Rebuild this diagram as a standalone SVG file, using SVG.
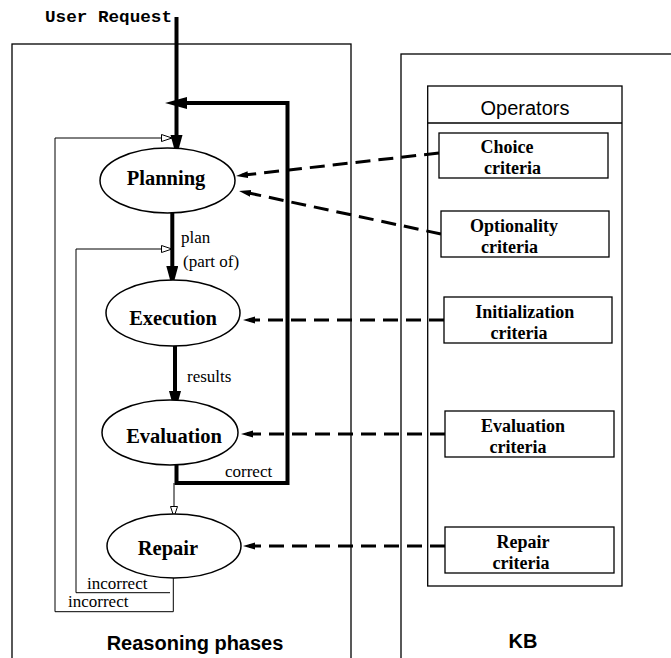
<svg xmlns="http://www.w3.org/2000/svg" width="671" height="658" viewBox="0 0 671 658">
<style>
.frame{fill:none;stroke:#000;stroke-width:1.3}
.box{fill:#fff;stroke:#000;stroke-width:1.3}
.ell{fill:#fff;stroke:#000;stroke-width:1.5}
.thick{fill:none;stroke:#000;stroke-width:4}
.thin{fill:none;stroke:#000;stroke-width:1}
.dash{fill:none;stroke:#000;stroke-width:3;stroke-dasharray:15 8}
.nlab{font-family:"Liberation Serif","Times New Roman",serif;font-weight:bold;font-size:20.5px;text-anchor:middle}
.blab{font-family:"Liberation Serif","Times New Roman",serif;font-weight:bold;font-size:18px;text-anchor:middle}
.elab{font-family:"Liberation Serif","Times New Roman",serif;font-size:17px}
.sans{font-family:"Liberation Sans",Arial,sans-serif;font-size:20px;text-anchor:middle}
</style>
<defs>
<marker id="ah" markerUnits="userSpaceOnUse" markerWidth="24" markerHeight="14" refX="10" refY="6" orient="auto"><path d="M0,0 L22,6 L0,12 z" fill="#000"/></marker>
<marker id="open" markerUnits="userSpaceOnUse" markerWidth="13" markerHeight="10" refX="11" refY="4" orient="auto"><path d="M0.5,0.5 L11,4 L0.5,7.5 z" fill="#fff" stroke="#000" stroke-width="1"/></marker>
<marker id="dah" markerUnits="userSpaceOnUse" markerWidth="14" markerHeight="9" refX="6" refY="3.5" orient="auto"><path d="M0,0 L12,3.5 L0,7 z" fill="#000"/></marker>
</defs>

<g id="reasoning-frame">
<rect class="frame" x="12" y="44" width="339" height="630"/>
<text class="sans" x="195" y="650" font-weight="bold">Reasoning phases</text>
</g>
<g id="kb-frame">
<rect class="frame" x="401" y="54" width="290" height="620"/>
<text class="sans" x="523" y="648" font-weight="bold">KB</text>
</g>
<g id="operators">
<rect class="box" x="427.7" y="86" width="194.3" height="500"/>
<line class="frame" x1="427.7" y1="123" x2="622" y2="123"/>
<text class="sans" x="525" y="115">Operators</text>
</g>

<g id="user-request">
<text x="45" y="22" font-family="'Liberation Mono','Courier New',monospace" font-weight="bold" font-size="17" textLength="127" lengthAdjust="spacingAndGlyphs">User Request</text>
</g>

<g id="connectors">
<line class="thick" x1="176.5" y1="17" x2="176.5" y2="145" marker-end="url(#ah)"/>
<path class="thick" d="M176.5,465 V483 H287.5 V103 H177" marker-end="url(#ah)"/>
<line class="thick" x1="172.3" y1="213" x2="172.3" y2="276" marker-end="url(#ah)"/>
<line class="thick" x1="175" y1="346" x2="175" y2="401" marker-end="url(#ah)"/>
<line class="thin" x1="174" y1="483" x2="174" y2="517" marker-end="url(#open)"/>
<path class="thin" d="M173.3,577 V611.7 H55 V138 H172" marker-end="url(#open)"/>
<path class="thin" d="M170,592.7 H76 V249 H172" marker-end="url(#open)"/>
<line class="dash" x1="439" y1="153" x2="242" y2="175.3" marker-end="url(#dah)"/>
<line class="dash" x1="441" y1="234" x2="244.9" y2="192.2" marker-end="url(#dah)"/>
<line class="dash" x1="444" y1="320" x2="249" y2="320" marker-end="url(#dah)"/>
<line class="dash" x1="445" y1="434" x2="247" y2="434" marker-end="url(#dah)"/>
<line class="dash" x1="445" y1="546" x2="249" y2="546" marker-end="url(#dah)"/>
<text class="elab" x="181" y="243">plan</text>
<text class="elab" x="183" y="267">(part of)</text>
<text class="elab" x="187" y="382">results</text>
<text class="elab" x="225" y="477">correct</text>
<text class="elab" x="87" y="589">incorrect</text>
<text class="elab" x="68" y="607">incorrect</text>
</g>

<g id="planning">
<ellipse class="ell" cx="167.5" cy="180.5" rx="67.5" ry="32.5"/>
<text class="nlab" x="166" y="185">Planning</text>
</g>
<g id="execution">
<ellipse class="ell" cx="173" cy="313" rx="67" ry="33"/>
<text class="nlab" x="173" y="325">Execution</text>
</g>
<g id="evaluation">
<ellipse class="ell" cx="170" cy="432.5" rx="68" ry="32.5"/>
<text class="nlab" x="174" y="443">Evaluation</text>
</g>
<g id="repair">
<ellipse class="ell" cx="174" cy="546" rx="67" ry="32"/>
<text class="nlab" x="168" y="555">Repair</text>
</g>

<g id="choice-criteria">
<rect class="box" x="439" y="133" width="169" height="45"/>
<text class="blab" x="507" y="153">Choice</text>
<text class="blab" x="512.5" y="174">criteria</text>
</g>
<g id="optionality-criteria">
<rect class="box" x="441" y="211" width="168" height="46"/>
<text class="blab" x="514" y="232">Optionality</text>
<text class="blab" x="509.5" y="253">criteria</text>
</g>
<g id="initialization-criteria">
<rect class="box" x="444" y="297" width="168" height="46"/>
<text class="blab" x="524.7" y="318">Initialization</text>
<text class="blab" x="519" y="339">criteria</text>
</g>
<g id="evaluation-criteria">
<rect class="box" x="445" y="411" width="169" height="46"/>
<text class="blab" x="523" y="432">Evaluation</text>
<text class="blab" x="518" y="453">criteria</text>
</g>
<g id="repair-criteria">
<rect class="box" x="445" y="527" width="169" height="46"/>
<text class="blab" x="523" y="548">Repair</text>
<text class="blab" x="521" y="569">criteria</text>
</g>
</svg>
